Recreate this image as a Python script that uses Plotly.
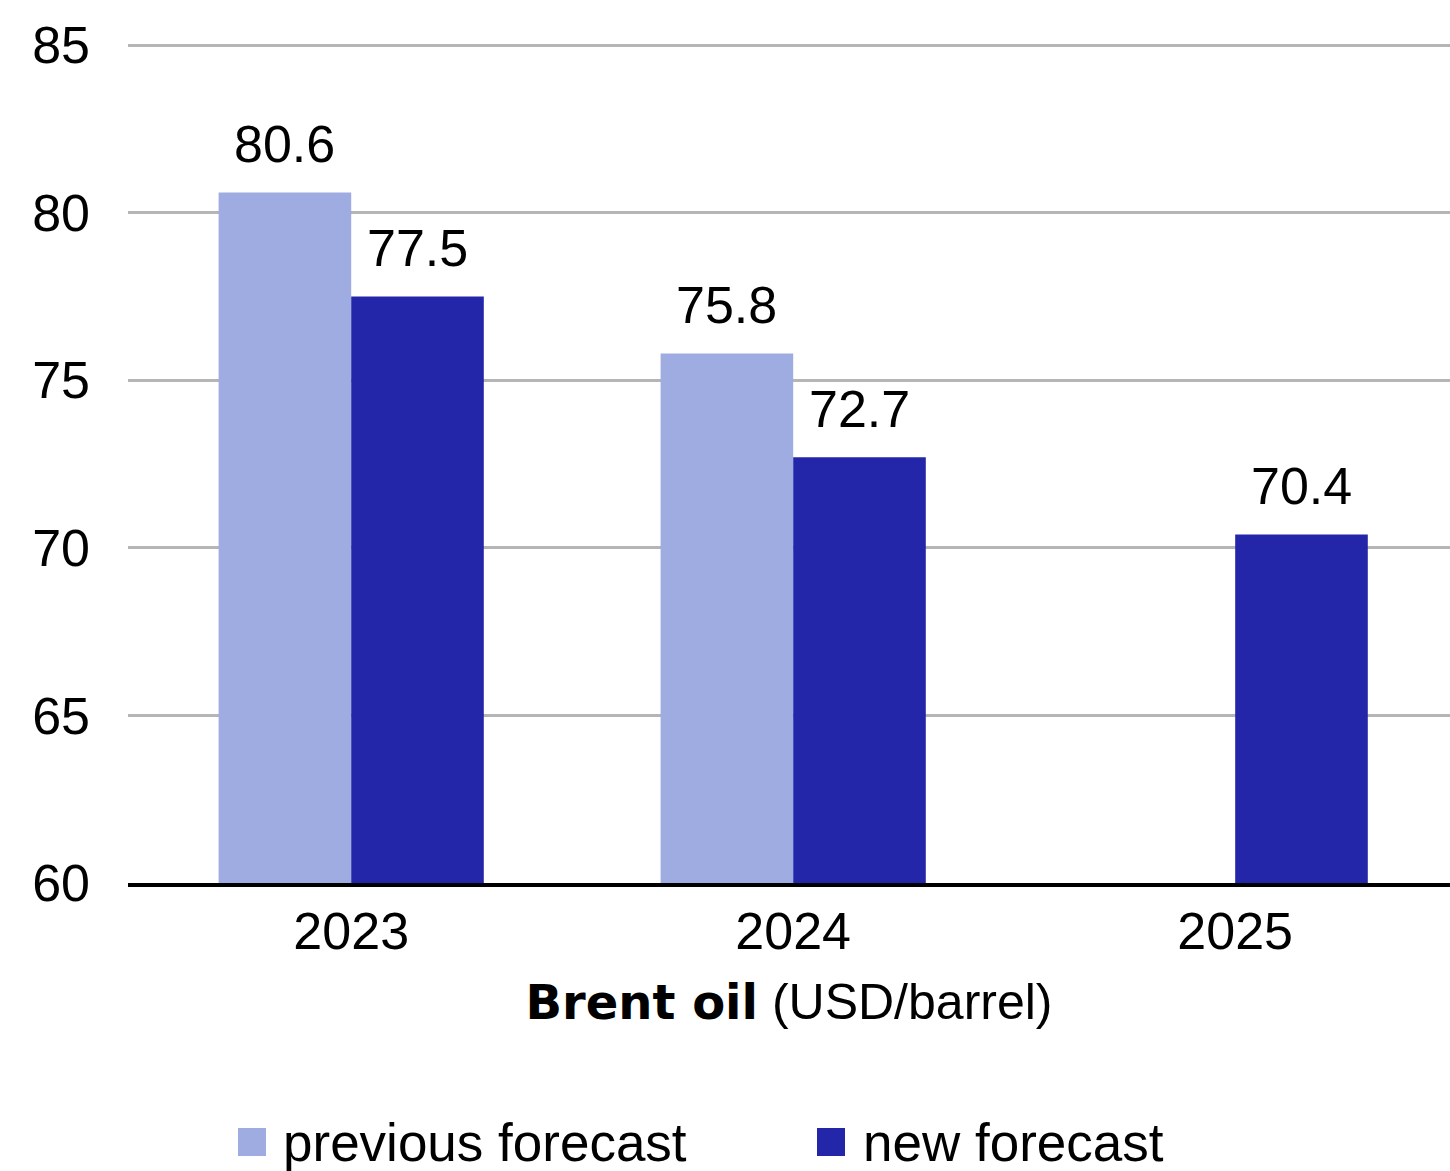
import plotly.graph_objects as go

years = ["2023", "2024", "2025"]
previous_forecast = [80.6, 75.8, None]
new_forecast = [77.5, 72.7, 70.4]
series_names = ["previous forecast", "new forecast"]
colors = ["#9FACE1", "#2326A8"]
y_ticks = [60, 65, 70, 75, 80, 85]

FONT = "Liberation Sans, Arial, sans-serif"
BARGAP = 0.4
L, R, T, B = 128, 0, 44, 288
W, H = 1450, 1171

fig = go.Figure()
for name, vals, col in zip(series_names, [previous_forecast, new_forecast], colors):
    fig.add_trace(go.Bar(x=years, y=vals, name=name, marker=dict(color=col, line=dict(width=0)),
                         showlegend=False))

# value labels
half = (1 - BARGAP) / 2
for si, vals in enumerate([previous_forecast, new_forecast]):
    off = -half / 2 if si == 0 else half / 2
    for i, v in enumerate(vals):
        if v is None:
            continue
        fig.add_annotation(x=i + off, y=v, xref="x", yref="y", text=f"{v:.1f}",
                           showarrow=False, yanchor="bottom", yshift=17,
                           font=dict(family=FONT, size=52, color="black"))

# manual legend
pw = W - L - R
ph = H - T - B
def px2x(px):
    return (px - L) / pw
def py2y(py):
    return (H - B - py) / ph
leg_items = [(238, 281), (817, 861)]
for (sx, tx), name, col in zip(leg_items, series_names, colors):
    fig.add_shape(type="rect", xref="paper", yref="paper",
                  x0=px2x(sx), x1=px2x(sx + 28), y0=py2y(1156), y1=py2y(1128),
                  fillcolor=col, line=dict(width=0))
    fig.add_annotation(xref="paper", yref="paper", x=px2x(tx), y=py2y(1142),
                       text=name, showarrow=False, xanchor="left", yanchor="middle",
                       font=dict(family=FONT, size=53, color="black"))

fig.update_layout(
    width=W, height=H,
    margin=dict(l=L, r=R, t=T, b=B),
    paper_bgcolor="white", plot_bgcolor="white",
    barmode="group", bargap=BARGAP, bargroupgap=0,
    font=dict(family=FONT, size=52, color="black"),
    xaxis=dict(type="category", range=[-0.505, 2.486], showgrid=False, showline=True,
               linecolor="black", linewidth=4,
               ticks="", tickfont=dict(size=52), ticklabelstandoff=0,
               title=dict(text="<span style='font-family:DejaVu Sans;font-weight:bold;font-size:48px'>Brent oil</span> (USD/barrel)",
                          font=dict(size=50, family=FONT), standoff=26)),
    yaxis=dict(range=[60, 85.03], tickvals=y_ticks, showgrid=True, gridcolor="#b5b5b5", gridwidth=2.5,
               zeroline=False, showline=False, ticks="", tickfont=dict(size=52),
               ticklabelstandoff=37),
)

fig.write_html("out.html")
